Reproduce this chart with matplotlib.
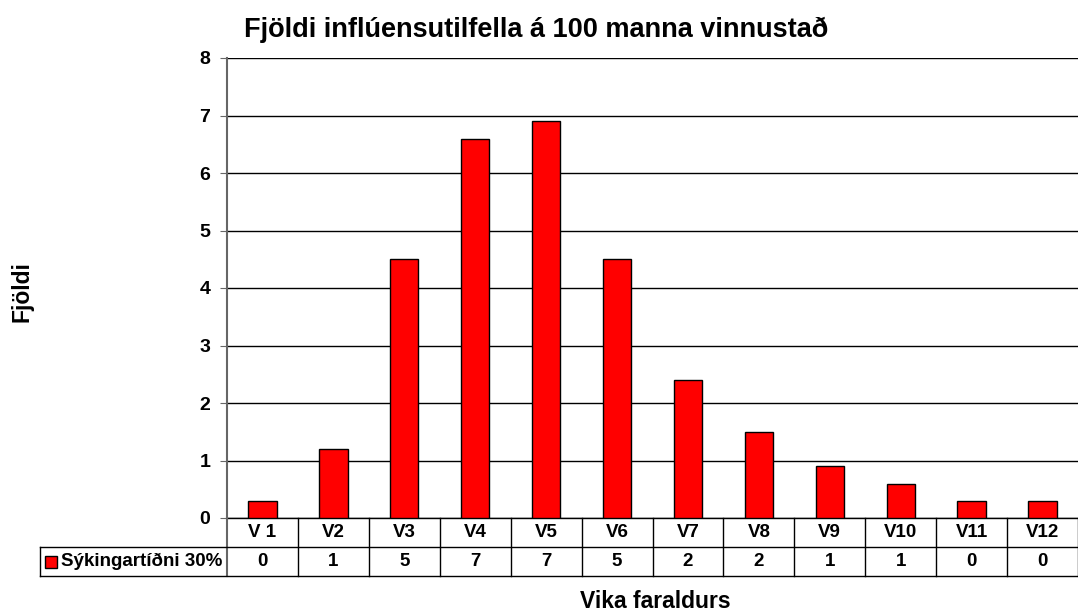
import numpy as np
import matplotlib.pyplot as plt
from matplotlib.lines import Line2D
from matplotlib.patches import Rectangle

# data
weeks = ['V 1', 'V2', 'V3', 'V4', 'V5', 'V6', 'V7', 'V8', 'V9', 'V10', 'V11', 'V12']
cases = [0.3, 1.2, 4.5, 6.6, 6.9, 4.5, 2.4, 1.5, 0.9, 0.6, 0.3, 0.3]
table_vals = ['0', '1', '5', '7', '7', '5', '2', '2', '1', '1', '0', '0']
series_name = 'Sýkingartíðni 30%'

plt.rcParams['font.family'] = ['Liberation Sans', 'DejaVu Sans']
plt.rcParams['font.weight'] = 'bold'

fig = plt.figure(figsize=(10.78, 6.11), dpi=100)
W, H = 1078, 611
ax = fig.add_axes([227 / W, 1 - 518 / H, 851 / W, 460 / H])

x = np.arange(len(weeks))
ax.bar(x, cases, width=0.4, color='#ff0000', edgecolor='black', linewidth=1, zorder=3)

ax.set_xlim(-0.5, len(weeks) - 0.5)
ax.set_ylim(0, 8)
ax.set_yticks(range(0, 9))
ax.yaxis.grid(True, color='black', linewidth=1)
ax.set_axisbelow(True)
for s in ['top', 'right', 'bottom']:
    ax.spines[s].set_visible(False)
ax.spines['left'].set_color('#666666')
ax.spines['left'].set_linewidth(1.5)
ax.tick_params(axis='y', length=5, color='#666666', labelsize=14, pad=7)
ax.tick_params(axis='x', bottom=False, labelbottom=False)
for lab in ax.get_yticklabels():
    lab.set_fontweight('bold')

# data table under the axes
row_h = 29 / 460
tr = ax.get_xaxis_transform()
ax.add_line(Line2D([-0.5, len(weeks) - 0.5], [0, 0], transform=tr, color='black',
                   linewidth=1, clip_on=False))
for i in range(1, len(weeks) + 1):
    ax.add_line(Line2D([i - 0.5, i - 0.5], [0, -2 * row_h], transform=tr, color='black',
                       linewidth=1, clip_on=False))
ax.add_line(Line2D([-0.5, -0.5], [0, -2 * row_h], transform=tr, color='#666666',
                   linewidth=1.5, clip_on=False))
left_frac = (40 - 227) / 851
for yy in [-row_h, -2 * row_h]:
    ax.add_line(Line2D([left_frac, 1], [yy, yy], transform=ax.transAxes, color='black',
                       linewidth=1, clip_on=False))
ax.add_line(Line2D([left_frac, left_frac], [-row_h, -2 * row_h], transform=ax.transAxes,
                   color='black', linewidth=1, clip_on=False))

for i, (w, v) in enumerate(zip(weeks, table_vals)):
    ax.text(i, -0.5 * row_h, w, transform=tr, ha='center', va='center',
            fontsize=13.5, fontweight='bold')
    ax.text(i, -1.5 * row_h, v, transform=tr, ha='center', va='center',
            fontsize=13.5, fontweight='bold')

ax.add_patch(Rectangle(((45 - 227) / 851, -1.5 * row_h - 6 / 460), 12 / 851, 12 / 460,
                       transform=ax.transAxes, facecolor='#ff0000', edgecolor='black',
                       linewidth=1, clip_on=False))
ax.text((61 - 227) / 851, -1.5 * row_h, series_name, transform=ax.transAxes,
        ha='left', va='center', fontsize=13.5, fontweight='bold')

fig.text(536 / W, 1 - 30 / H, 'Fjöldi inflúensutilfella á 100 manna vinnustað',
         ha='center', va='center', fontsize=19.5, fontweight='bold')
fig.text(22 / W, 1 - 292 / H, 'Fjöldi', rotation=90, ha='center', va='center',
         fontsize=16.5, fontweight='bold')
fig.text(655 / W, 1 - 601 / H, 'Vika faraldurs', ha='center', va='center',
         fontsize=16.5, fontweight='bold')

fig.savefig('out.png', dpi=100)
